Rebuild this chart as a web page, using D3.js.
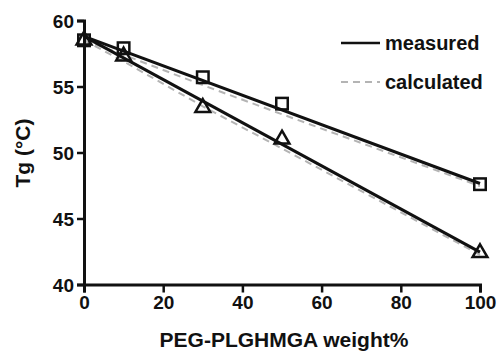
<!DOCTYPE html>
<html>
<head>
<meta charset="utf-8">
<script src="https://cdn.jsdelivr.net/npm/d3@7"></script>
<style>
  body { margin: 0; background: #fff; }
  svg { font-family: "Liberation Sans", Arial, sans-serif; font-weight: bold; }
</style>
</head>
<body>
<svg id="chart"></svg>
<script>
// data
let weights = [0, 10, 30, 50, 100]
let tgSquare = [58.5, 57.9, 55.7, 53.7, 47.6]
let tgTriangle = [58.5, 57.3, 53.4, 51.0, 42.4]
// fitted (measured) lines, value at 0 and 100 wt%
let fitX = [0, 100]
let fitSquare = [58.8, 47.65]
let fitTriangle = [58.8, 42.45]
// calculated values
let calcSquare = [58.5, 57.4, 55.1, 52.9, 47.45]
let calcTriangle = [58.5, 56.9, 53.5, 50.3, 42.25]
let xTicks = [0, 20, 40, 60, 80, 100]
let yTicks = [40, 45, 50, 55, 60]

let width = 497
let height = 351

let svg = d3.select('#chart')
    .attr('width', width)
    .attr('height', height)

let x = d3.scaleLinear().domain([0, 100]).range([84, 480])
let y = d3.scaleLinear().domain([40, 60]).range([284.5, 20.5])

let line = d3.line()
    .x(d => x(d[0]))
    .y(d => y(d[1]))

// calculated (dashed, grey)
let calcSeries = [calcSquare, calcTriangle]
calcSeries.forEach(s => {
    svg.append('path')
        .datum(weights.map((w, i) => [w, s[i]]))
        .attr('d', line)
        .attr('fill', 'none')
        .attr('stroke', '#b4b4b4')
        .attr('stroke-width', 2)
        .attr('stroke-dasharray', '7,5')
})

// measured fits (solid, black)
let fitSeries = [fitSquare, fitTriangle]
fitSeries.forEach(s => {
    svg.append('path')
        .datum(fitX.map((w, i) => [w, s[i]]))
        .attr('d', line)
        .attr('fill', 'none')
        .attr('stroke', '#111')
        .attr('stroke-width', 3)
})

// markers
let sq = 11.5
svg.selectAll('.sq')
    .data(weights.map((w, i) => [w, tgSquare[i]]))
    .enter()
    .append('rect')
    .attr('x', d => x(d[0]) - sq / 2)
    .attr('y', d => y(d[1]) - sq / 2)
    .attr('width', sq)
    .attr('height', sq)
    .attr('fill', 'none')
    .attr('stroke', '#111')
    .attr('stroke-width', 2.5)

let tri = d3.symbol().type(d3.symbolTriangle).size(95)
svg.selectAll('.tri')
    .data(weights.map((w, i) => [w, tgTriangle[i]]))
    .enter()
    .append('path')
    .attr('d', tri)
    .attr('transform', d => 'translate(' + x(d[0]) + ',' + y(d[1]) + ')')
    .attr('fill', 'none')
    .attr('stroke', '#111')
    .attr('stroke-width', 2.5)

// axes
let xAxis = svg.append('g')
    .attr('transform', 'translate(0,' + y(40) + ')')
    .call(d3.axisBottom(x).tickValues(xTicks).tickSize(8).tickPadding(3).tickFormat(d3.format('d')))
let yAxis = svg.append('g')
    .attr('transform', 'translate(' + x(0) + ',0)')
    .call(d3.axisLeft(y).tickValues(yTicks).tickSize(7).tickPadding(3).tickFormat(d3.format('d')))

;[xAxis, yAxis].forEach(a => {
    a.select('.domain').attr('stroke', '#111').attr('stroke-width', 3)
    a.selectAll('.tick line').attr('stroke', '#111').attr('stroke-width', 2.5)
    a.selectAll('.tick text')
        .attr('fill', '#111')
        .style('font-size', '19px')
        .style('font-family', '"Liberation Sans", Arial, sans-serif')
        .style('font-weight', 'bold')
})
yAxis.selectAll('.tick text').attr('dy', '0.36em')

// axis titles
svg.append('text')
    .attr('x', 284)
    .attr('y', 347)
    .attr('text-anchor', 'middle')
    .style('font-size', '21px')
    .attr('fill', '#111')
    .text('PEG-PLGHMGA weight%')

svg.append('text')
    .attr('transform', 'translate(30,153) rotate(-90)')
    .attr('text-anchor', 'middle')
    .style('font-size', '21px')
    .attr('fill', '#111')
    .text('Tg (°C)')

// legend
let legendItems = ['measured', 'calculated']
let legend = svg.append('g')
legendItems.forEach((name, i) => {
    let ly = 43 + i * 39
    legend.append('line')
        .attr('x1', 341).attr('x2', 380)
        .attr('y1', ly).attr('y2', ly)
        .attr('stroke', i === 0 ? '#111' : '#b4b4b4')
        .attr('stroke-width', i === 0 ? 2.5 : 2)
        .attr('stroke-dasharray', i === 0 ? null : '7,5')
    legend.append('text')
        .attr('x', 385)
        .attr('y', ly + 7)
        .style('font-size', '20px')
        .attr('fill', '#111')
        .text(name)
})
</script>
</body>
</html>
